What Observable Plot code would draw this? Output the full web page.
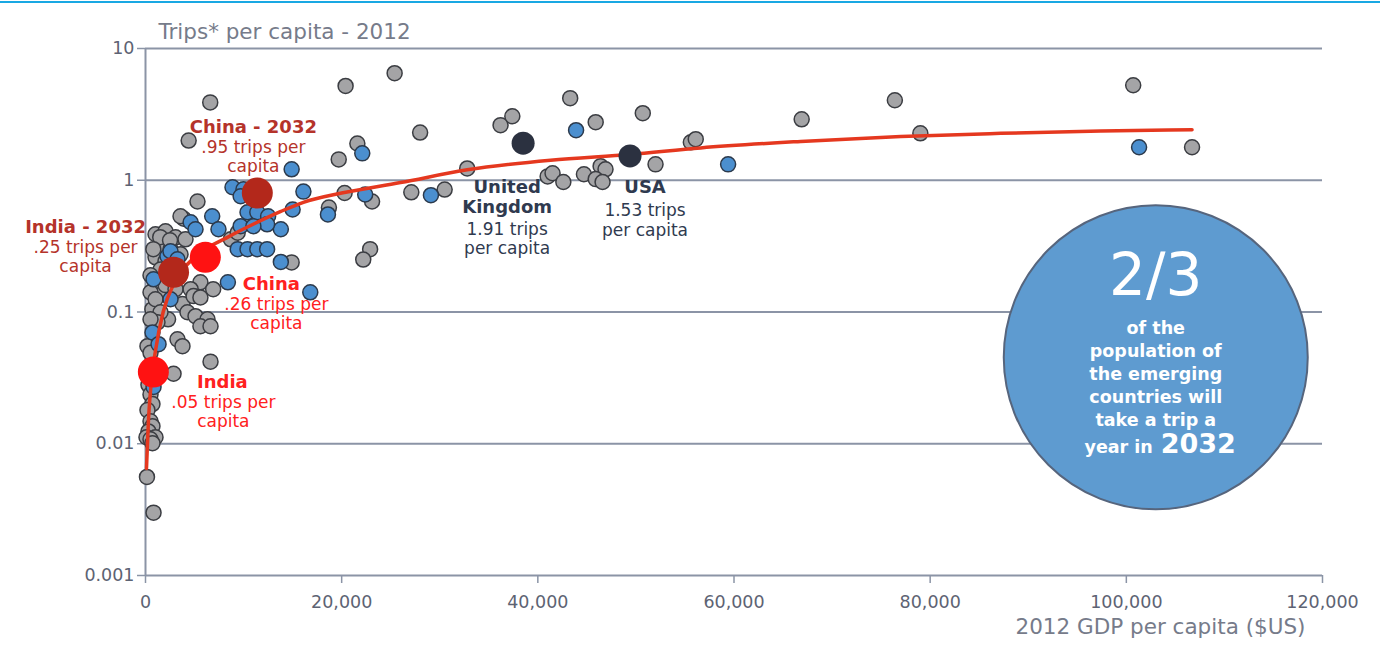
<!DOCTYPE html>
<html><head><meta charset="utf-8">
<script src="https://cdn.jsdelivr.net/npm/d3@7"></script>
<script src="https://cdn.jsdelivr.net/npm/@observablehq/plot@0.6"></script>
<style>
html,body{margin:0;padding:0;background:#fff;overflow:hidden;}
#chart{position:absolute;left:0;top:0;}
#topline{position:absolute;left:0;top:1px;width:1380px;height:2px;background:#19a8e3;}
</style></head><body>
<div id="chart"></div><div id="topline"></div>
<script>
// Other countries, grey: [GDP per capita, trips per capita]
const grayCountries = [
  [25400,6.5],[20400,5.2],[6600,3.9],[4400,2.0],[28000,2.3],[21600,1.9],[19700,1.44],[32800,1.23],
  [36200,2.62],[37400,3.06],[43300,4.2],[45900,2.76],[50700,3.23],[52000,1.32],[55600,1.94],[56100,2.05],
  [66900,2.9],[76400,4.05],[79000,2.27],[100700,5.26],[106700,1.78],
  [18700,0.62],[20300,0.80],[23100,0.69],[27100,0.81],[30500,0.85],[41000,1.07],[41500,1.13],[42600,0.97],
  [44700,1.11],[46400,1.28],[46900,1.21],[45900,1.02],[46600,0.97],[22900,0.30],[22200,0.25],[14900,0.238],
  [5300,0.69],[3900,0.51],[3570,0.533],[8700,0.356],[9400,0.40],
  [1020,0.389],[2040,0.41],[3060,0.369],[4080,0.356],[1530,0.327],[2550,0.299],[3570,0.274],[1020,0.26],[2040,0.243],
  [1500,0.37],[2500,0.35],[800,0.30],[2800,0.19],[1800,0.14],[700,0.105],[2300,0.088],
  [1530,0.21],[510,0.19],[2040,0.16],[3060,0.149],[3770,0.115],
  [5600,0.168],[6900,0.149],[4600,0.149],[4900,0.132],[5600,0.129],[510,0.141],[1020,0.125],
  [4280,0.0995],[5100,0.093],[6320,0.088],[5600,0.078],[6630,0.078],[1530,0.0995],[1220,0.0835],[510,0.088],
  [3260,0.062],[3770,0.055],[6630,0.042],[200,0.055],[510,0.049],[2860,0.034],
  [300,0.028],[510,0.0237],[710,0.02],[200,0.018],[510,0.0148],[710,0.0136],[300,0.0124],[1020,0.0112],
  [100,0.0112],[510,0.0108],[710,0.0101],[150,0.0056],[820,0.003]
];
// Emerging countries, blue
const blueCountries = [
  [22100,1.60],[43900,2.40],[59400,1.32],[101300,1.78],[16100,0.82],[18600,0.55],[22400,0.78],[29100,0.77],
  [14900,1.21],[15000,0.60],[13800,0.24],[16800,0.141],
  [4600,0.48],[6800,0.533],[7440,0.425],[8870,0.885],[9990,0.855],[9700,0.756],[13800,0.425],
  [10400,0.571],[11400,0.571],[12500,0.533],[12400,0.463],[9700,0.448],[11000,0.448],
  [9400,0.30],[10400,0.30],[11400,0.30],[12400,0.30],[8400,0.168],[5100,0.425],
  [2240,0.265],[2550,0.289],[3260,0.251],[2550,0.21],[820,0.177],[2550,0.125],
  [710,0.070],[1330,0.057],[820,0.027]
];
const benchmarkNames = ["United Kingdom","USA"];
const benchmarkGdp = [38500,49400];
const benchmarkTrips = [1.91,1.53];
const focusNames = ["China","India"];
const focusGdp2012 = [6100,800];
const focusTrips2012 = [0.26,0.035];
const focusGdp2032 = [11400,2860];
const focusTrips2032 = [0.80,0.20];
// Trend curve
const trendGdp = [100,300,600,1000,1800,3000,5000,8400,11400,13800,16100,20000,26000,32800,41300,49400,56600,66800,77000,87200,97400,106700];
const trendTrips = [0.0065,0.015,0.03,0.05,0.1,0.17,0.26,0.37,0.48,0.58,0.68,0.8,0.96,1.2,1.42,1.57,1.76,1.97,2.15,2.27,2.36,2.42];
const xTicks = [0,20000,40000,60000,80000,100000,120000];
const yTicks = [0.001,0.01,0.1,1,10];
const yTickLabels = ["0.001","0.01","0.1","1","10"];

const gray = grayCountries.map(([gdp,trips]) => ({gdp,trips}));
const blue = blueCountries.map(([gdp,trips]) => ({gdp,trips}));
const bench = benchmarkNames.map((name,i) => ({name, gdp:benchmarkGdp[i], trips:benchmarkTrips[i]}));
const f2012 = focusNames.map((name,i) => ({name, gdp:focusGdp2012[i], trips:focusTrips2012[i]}));
const f2032 = focusNames.map((name,i) => ({name, gdp:focusGdp2032[i], trips:focusTrips2032[i]}));
const trend = trendGdp.map((gdp,i) => ({gdp, trips:trendTrips[i]}));
const calloutAnchor = [{gdp:103000, trips:0.0453}];

const AF = "DejaVu Sans, Verdana, sans-serif";
const gridC = "#8b94a6";
function note(d, text, o) {
  return Plot.text([d], Object.assign({x:"gdp", y:"trips", text:() => text, fontFamily:AF, lineHeight:1.13, textAnchor:"middle", lineAnchor:"middle"}, o));
}
const china12 = f2012[0], india12 = f2012[1], china32 = f2032[0], india32 = f2032[1];
const uk = bench[0], usa = bench[1];

const chart = Plot.plot({
  width:1380, height:668,
  marginLeft:145, marginRight:58, marginTop:48, marginBottom:93,
  style:{fontFamily:AF, background:"transparent", color:"#5d6373", overflow:"visible"},
  x:{domain:[0,120000]},
  y:{type:"log", domain:[0.001,10]},
  marks:[
    Plot.ruleY(yTicks, {stroke:gridC, strokeWidth:2}),
    Plot.ruleX([0], {stroke:gridC, strokeWidth:2}),
    Plot.axisX({ticks:xTicks, tickFormat:d3.format(","), tickSize:8, tickPadding:12, fontSize:17.5, stroke:gridC, strokeWidth:1.5, fill:"#5d6373", label:null}),
    Plot.axisY({ticks:yTicks, tickFormat:d => yTickLabels[yTicks.indexOf(d)], tickSize:8, tickPadding:3, fontSize:17.5, stroke:gridC, strokeWidth:1.5, fill:"#5d6373", label:null}),
    Plot.text(["Trips* per capita - 2012"], {frameAnchor:"top-left", text:d=>d, dx:13, dy:-25, textAnchor:"start", fontSize:21.5, fill:"#767b8a"}),
    Plot.text(["2012 GDP per capita ($US)"], {frameAnchor:"bottom-right", text:d=>d, dx:-17, dy:58, textAnchor:"end", fontSize:21.5, fill:"#767b8a"}),
    Plot.dot(gray, {x:"gdp", y:"trips", r:7.5, fill:"#a4a4a6", stroke:"#3b3d42", strokeWidth:1.5}),
    Plot.dot(blue, {x:"gdp", y:"trips", r:7.5, fill:"#4b8fcf", stroke:"#2c3a4c", strokeWidth:1.5}),
    Plot.line(trend, {x:"gdp", y:"trips", stroke:"#e5381f", strokeWidth:3.5, curve:"monotone-x"}),
    Plot.dot(f2032, {x:"gdp", y:"trips", r:15.5, fill:"#b3281b"}),
    Plot.dot(f2012, {x:"gdp", y:"trips", r:15.5, fill:"#ff1212"}),
    Plot.dot(bench, {x:"gdp", y:"trips", r:11.5, fill:"#2b3140"}),
    // callouts
    note(china32, "China - 2032", {dx:-4, dy:-67, fontSize:18, fontWeight:"bold", fill:"#b5332a"}),
    note(china32, ".95 trips per\ncapita", {dx:-4, dy:-37, fontSize:17, fill:"#b5332a"}),
    note(india32, "India - 2032", {dx:-88, dy:-46, fontSize:18, fontWeight:"bold", fill:"#b5332a"}),
    note(india32, ".25 trips per\ncapita", {dx:-88, dy:-16, fontSize:17, fill:"#b5332a"}),
    note(china12, "China", {dx:66, dy:26, fontSize:18, fontWeight:"bold", fill:"#ff2020"}),
    note(china12, ".26 trips per\ncapita", {dx:71, dy:56, fontSize:17, fill:"#ff2020"}),
    note(india12, "India", {dx:69, dy:9, fontSize:18, fontWeight:"bold", fill:"#ff2020"}),
    note(india12, ".05 trips per\ncapita", {dx:70, dy:39, fontSize:17, fill:"#ff2020"}),
    note(uk, "United\nKingdom", {dx:-16, dy:53, fontSize:18, fontWeight:"bold", fill:"#2f3a4f"}),
    note(uk, "1.91 trips\nper capita", {dx:-16, dy:95, fontSize:17, fill:"#2f3a4f"}),
    note(usa, "USA", {dx:15, dy:31, fontSize:18, fontWeight:"bold", fill:"#2f3a4f"}),
    note(usa, "1.53 trips\nper capita", {dx:15, dy:64, fontSize:17, fill:"#2f3a4f"}),
    // big circle
    Plot.dot(calloutAnchor, {x:"gdp", y:"trips", r:152, fill:"#5e9bd0", stroke:"#56657d", strokeWidth:2}),
    note(calloutAnchor[0], "2/3", {dy:-83, fontSize:58, fill:"#fff"}),
    note(calloutAnchor[0], "of the\npopulation of\nthe emerging\ncountries will\ntake a trip a", {dy:15, fontSize:17.5, fontWeight:"bold", fill:"#fff", lineHeight:1.32}),
    note(calloutAnchor[0], "year in", {dx:-3, dy:89, textAnchor:"end", fontSize:17.5, fontWeight:"bold", fill:"#fff"}),
    note(calloutAnchor[0], "2032", {dx:5, dy:86, textAnchor:"start", fontSize:27, fontWeight:"bold", fill:"#fff"})
  ]
});
document.getElementById("chart").appendChild(chart);
</script>
</body></html>
